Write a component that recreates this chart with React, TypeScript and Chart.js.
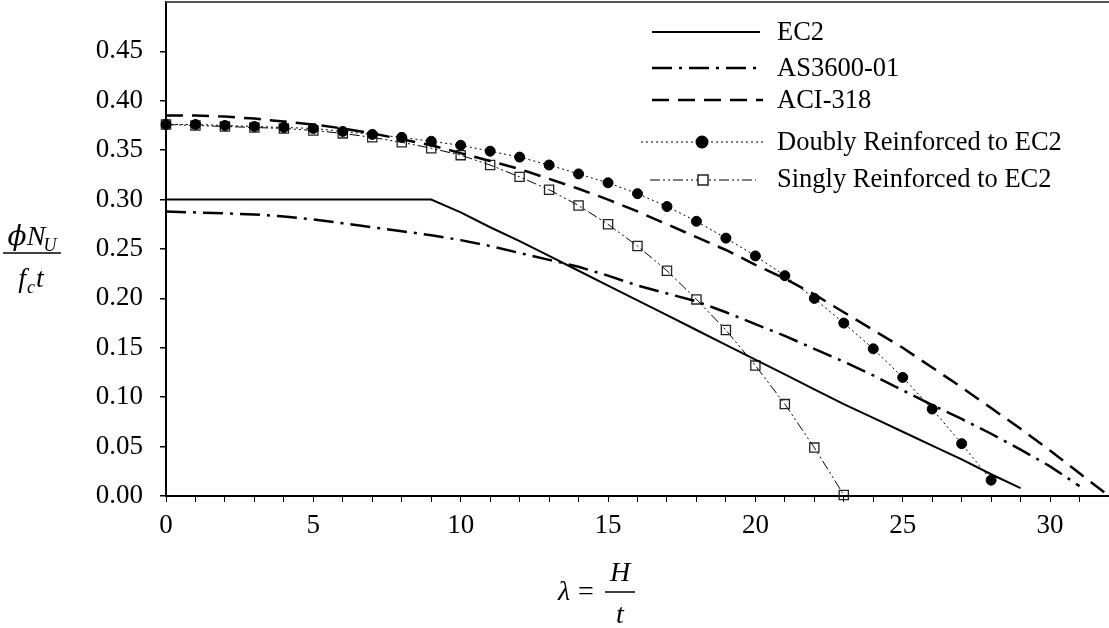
import React, { useEffect, useRef } from 'react';
import { Chart, registerables } from 'chart.js';

Chart.register(...registerables);

const SERIF = '"Liberation Serif", "Times New Roman", serif';

// ---- data ----
const seriesNames = [
  'EC2',
  'AS3600-01',
  'ACI-318',
  'Doubly Reinforced to EC2',
  'Singly Reinforced to EC2',
];

const ec2Lambda = [0, 1, 2, 3, 4, 5, 6, 7, 8, 9, 10, 11, 12, 13, 14, 15, 16, 17, 18, 19, 20, 21, 22, 23, 24, 25, 26, 27, 28, 29];
const ec2Values = [0.300, 0.300, 0.300, 0.300, 0.300, 0.300, 0.300, 0.300, 0.300, 0.300, 0.287, 0.272, 0.258, 0.243, 0.228, 0.213, 0.198, 0.183, 0.168, 0.153, 0.138, 0.123, 0.108, 0.093, 0.079, 0.065, 0.051, 0.037, 0.022, 0.008];

const asLambda = [0, 1, 2, 3, 4, 5, 6, 7, 8, 9, 10, 11, 12, 13, 14, 15, 16, 17, 18, 19, 20, 21, 22, 23, 24, 25, 26, 27, 28, 29, 30, 31];
const asValues = [0.288, 0.287, 0.286, 0.285, 0.283, 0.280, 0.276, 0.272, 0.268, 0.264, 0.259, 0.253, 0.246, 0.239, 0.232, 0.223, 0.213, 0.205, 0.197, 0.186, 0.174, 0.162, 0.149, 0.136, 0.122, 0.107, 0.092, 0.078, 0.063, 0.047, 0.030, 0.010];

const aciLambda = [0, 1, 2, 3, 4, 5, 6, 7, 8, 9, 10, 11, 12, 13, 14, 15, 16, 17, 18, 19, 20, 21, 22, 23, 24, 25, 26, 27, 28, 29, 30, 31, 32];
const aciValues = [0.385, 0.385, 0.384, 0.382, 0.379, 0.376, 0.372, 0.367, 0.361, 0.355, 0.347, 0.339, 0.331, 0.321, 0.311, 0.300, 0.288, 0.275, 0.262, 0.249, 0.234, 0.220, 0.204, 0.186, 0.168, 0.150, 0.130, 0.110, 0.089, 0.068, 0.046, 0.023, 0.000];

const doublyLambda = [0, 1, 2, 3, 4, 5, 6, 7, 8, 9, 10, 11, 12, 13, 14, 15, 16, 17, 18, 19, 20, 21, 22, 23, 24, 25, 26, 27, 28];
const doublyValues = [0.376, 0.376, 0.375, 0.374, 0.373, 0.372, 0.369, 0.366, 0.363, 0.359, 0.355, 0.349, 0.343, 0.335, 0.326, 0.317, 0.306, 0.293, 0.278, 0.261, 0.243, 0.223, 0.200, 0.175, 0.149, 0.120, 0.088, 0.053, 0.016];

const singlyLambda = [0, 1, 2, 3, 4, 5, 6, 7, 8, 9, 10, 11, 12, 13, 14, 15, 16, 17, 18, 19, 20, 21, 22, 23];
const singlyValues = [0.376, 0.375, 0.374, 0.373, 0.372, 0.370, 0.367, 0.363, 0.358, 0.352, 0.345, 0.335, 0.323, 0.310, 0.294, 0.275, 0.253, 0.228, 0.199, 0.168, 0.132, 0.093, 0.049, 0.001];

const xMin = 0;
const xMax = 32;
const yMin = 0;
const yMax = 0.5;

function pts(xs: number[], ys: number[]) {
  return xs.map((x, i) => ({ x, y: ys[i] }));
}

export default function App() {
  const ref = useRef<HTMLCanvasElement | null>(null);

  useEffect(() => {
    const canvas = ref.current;
    if (!canvas) return;

    const legendRows = [
      { line: 32, base: 40, x1: 652, x2: 760, mx: 0 },
      { line: 68, base: 76, x1: 652, x2: 762, mx: 0 },
      { line: 100, base: 108, x1: 652, x2: 763, mx: 0 },
      { line: 142, base: 150, x1: 641, x2: 763, mx: 702 },
      { line: 180, base: 187, x1: 650, x2: 756, mx: 703 },
    ];

    const overlay = {
      id: 'overlay',
      afterDraw(chart: any) {
        const ctx = chart.ctx as CanvasRenderingContext2D;
        const a = chart.chartArea;
        ctx.save();
        // top frame line
        ctx.strokeStyle = '#555';
        ctx.lineWidth = 2;
        ctx.setLineDash([]);
        ctx.beginPath();
        ctx.moveTo(a.left, a.top);
        ctx.lineTo(a.right, a.top);
        ctx.stroke();

        // legend
        chart.data.datasets.forEach((ds: any, i: number) => {
          const r = legendRows[i];
          ctx.save();
          ctx.strokeStyle = ds.borderColor;
          ctx.lineWidth = ds.borderWidth;
          ctx.setLineDash(ds.borderDash || []);
          ctx.beginPath();
          ctx.moveTo(r.x1, r.line);
          ctx.lineTo(r.x2, r.line);
          ctx.stroke();
          ctx.setLineDash([]);
          if (i === 3) {
            ctx.fillStyle = '#000';
            ctx.beginPath();
            ctx.arc(r.mx, r.line, 6.5, 0, Math.PI * 2);
            ctx.fill();
          } else if (i === 4) {
            ctx.fillStyle = '#fff';
            ctx.strokeStyle = '#222';
            ctx.lineWidth = 1.5;
            ctx.fillRect(r.mx - 5, r.line - 5, 10, 10);
            ctx.strokeRect(r.mx - 5, r.line - 5, 10, 10);
          }
          ctx.fillStyle = '#000';
          ctx.font = `26.5px ${SERIF}`;
          ctx.textAlign = 'left';
          ctx.textBaseline = 'alphabetic';
          ctx.fillText(seriesNames[i], 777, r.base);
          ctx.restore();
        });

        // y-axis title: phi N_U / f_c t
        ctx.fillStyle = '#000';
        ctx.textBaseline = 'alphabetic';
        ctx.textAlign = 'left';
        const big = `italic 28px ${SERIF}`;
        const small = `italic 18px ${SERIF}`;
        const phiFont = `italic 28px "DejaVu Serif", ${SERIF}`;
        ctx.font = phiFont;
        const wPhi = ctx.measureText('\u03D5').width;
        ctx.font = big;
        const wN = ctx.measureText('N').width;
        ctx.font = small;
        const wU = ctx.measureText('U').width;
        let x0 = 33 - (wPhi + wN + wU) / 2;
        ctx.font = phiFont;
        ctx.fillText('\u03D5', x0, 245);
        ctx.font = big;
        ctx.fillText('N', x0 + wPhi, 245);
        ctx.font = small;
        ctx.fillText('U', x0 + wPhi + wN - 2, 251);
        ctx.strokeStyle = '#000';
        ctx.lineWidth = 1.5;
        ctx.beginPath();
        ctx.moveTo(3, 253);
        ctx.lineTo(61, 253);
        ctx.stroke();
        ctx.font = big;
        const wf = ctx.measureText('f').width;
        const wt = ctx.measureText('t').width;
        ctx.font = small;
        const wc = ctx.measureText('c').width;
        x0 = 31 - (wf + wc + wt + 2) / 2;
        ctx.font = big;
        ctx.fillText('f', x0, 287);
        ctx.font = small;
        ctx.fillText('c', x0 + wf + 1, 293);
        ctx.font = big;
        ctx.fillText('t', x0 + wf + wc + 2, 287);

        // x-axis title: lambda = H / t
        ctx.font = big;
        ctx.fillText('\u03BB', 558, 600);
        ctx.font = `28px ${SERIF}`;
        ctx.fillText('=', 578, 600);
        ctx.beginPath();
        ctx.moveTo(605, 592);
        ctx.lineTo(635, 592);
        ctx.stroke();
        ctx.font = big;
        ctx.textAlign = 'center';
        ctx.fillText('H', 620, 581);
        ctx.fillText('t', 620, 623);
        ctx.restore();
      },
    };

    const chart = new Chart(canvas, {
      type: 'line',
      data: {
        datasets: [
          {
            label: seriesNames[0],
            data: pts(ec2Lambda, ec2Values),
            borderColor: '#000',
            borderWidth: 2,
            pointRadius: 0,
            fill: false,
            tension: 0,
            clip: false,
          },
          {
            label: seriesNames[1],
            data: pts(asLambda, asValues),
            borderColor: '#000',
            borderWidth: 2.5,
            borderDash: [20, 7, 3, 7],
            pointRadius: 0,
            fill: false,
            tension: 0,
            clip: false,
          },
          {
            label: seriesNames[2],
            data: pts(aciLambda, aciValues),
            borderColor: '#000',
            borderWidth: 2.5,
            borderDash: [17, 9],
            pointRadius: 0,
            fill: false,
            tension: 0,
            clip: false,
          },
          {
            label: seriesNames[3],
            data: pts(doublyLambda, doublyValues),
            borderColor: '#000',
            borderWidth: 1,
            borderDash: [2, 3],
            pointRadius: 5,
            pointStyle: 'circle',
            pointBackgroundColor: '#000',
            pointBorderColor: '#000',
            pointBorderWidth: 1,
            fill: false,
            tension: 0,
            clip: false,
          },
          {
            label: seriesNames[4],
            data: pts(singlyLambda, singlyValues),
            borderColor: '#000',
            borderWidth: 1,
            borderDash: [10, 3, 2, 3, 2, 3],
            pointRadius: 6.5,
            pointStyle: 'rect',
            pointBackgroundColor: 'rgba(0,0,0,0)',
            pointBorderColor: '#222',
            pointBorderWidth: 1.3,
            fill: false,
            tension: 0,
            clip: false,
          },
        ],
      },
      options: {
        responsive: false,
        animation: false,
        devicePixelRatio: 1,
        layout: { autoPadding: false, padding: { top: 2, right: 0, left: 0, bottom: 0 } },
        plugins: {
          legend: { display: false },
          tooltip: { enabled: false },
        },
        scales: {
          x: {
            type: 'linear',
            min: xMin,
            max: xMax,
            afterFit: (s: any) => {
              s.height = 132;
              s.paddingLeft = 0;
              s.paddingRight = 0;
              s.paddingTop = 0;
              s.paddingBottom = 0;
            },
            ticks: {
              stepSize: 1,
              autoSkip: false,
              maxRotation: 0,
              minRotation: 0,
              color: '#000',
              padding: 8,
              font: { family: SERIF, size: 27 },
              callback: (v: any) => (Number(v) % 5 === 0 ? String(v) : ''),
            },
            grid: {
              drawOnChartArea: false,
              drawTicks: true,
              tickLength: 6,
              color: '#000',
              lineWidth: 1,
            },
            border: { display: true, color: '#000', width: 2 },
          },
          y: {
            type: 'linear',
            min: yMin,
            max: yMax,
            afterFit: (s: any) => {
              s.width = 166;
              s.paddingLeft = 0;
              s.paddingRight = 0;
              s.paddingTop = 0;
              s.paddingBottom = 0;
            },
            ticks: {
              stepSize: 0.05,
              color: '#000',
              padding: 17,
              font: { family: SERIF, size: 27 },
              callback: (v: any) => (Number(v) > 0.47 ? null : Number(v).toFixed(2)),
            },
            grid: {
              drawOnChartArea: false,
              drawTicks: true,
              tickLength: 6,
              color: '#000',
              lineWidth: 1.5,
            },
            border: { display: true, color: '#000', width: 2 },
          },
        },
      },
      plugins: [overlay],
    } as any);

    return () => {
      chart.destroy();
    };
  }, []);

  return (
    <div style={{ position: 'fixed', left: 0, top: 0, width: 1109, height: 628, background: '#fff' }}>
      <canvas ref={ref} width={1109} height={628} style={{ display: 'block', width: 1109, height: 628 }} />
    </div>
  );
}
